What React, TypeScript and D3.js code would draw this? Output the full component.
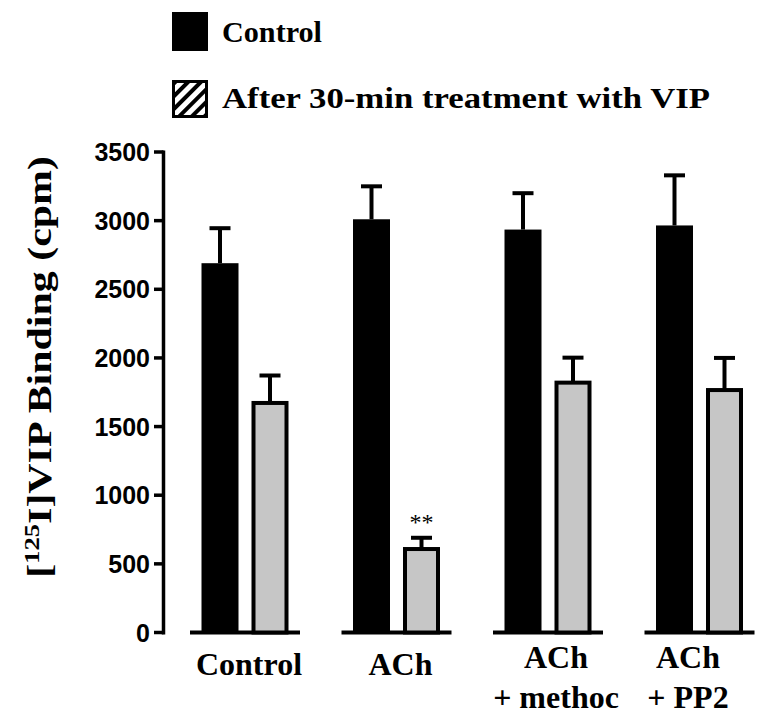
import React from 'react';
import * as d3 from 'd3';

// groups along the x axis, first line / second line of the label
const groups = ['Control', 'ACh', 'ACh + methoc', 'ACh + PP2'];
const labelLines = [['Control'], ['ACh'], ['ACh', '+ methoc'], ['ACh', '+ PP2']];

const series = ['Control', 'After 30-min treatment with VIP'];
const controlMean = [2690, 3010, 2935, 2965];
const controlSem = [255, 240, 265, 365];
const vipMean = [1672, 608, 1820, 1766];
const vipSem = [200, 82, 182, 234];
const signif = ['', '**', '', ''];

const yTicks = [0, 500, 1000, 1500, 2000, 2500, 3000, 3500];

const W = 768;
const H = 724;
const serif = '"Liberation Serif", "Times New Roman", serif';
const sans = '"Liberation Sans", Arial, sans-serif';

export default function App() {
  const y = d3.scaleLinear().domain([0, 3500]).range([632.5, 152]);
  const x = d3.scalePoint<string>().domain(groups).range([245, 699.5]);
  const sub = d3.scaleBand<number>().domain([0, 1]).range([-55, 55])
    .paddingInner(0.26).paddingOuter(0.23);
  const bw = sub.bandwidth();
  const axisX = 163.5;
  // labels sit slightly off the group centre in the original
  const labelNudge = [4, 4, 8, -11.5];

  const rows = groups.map((g, i) => [
    { g, k: 0, v: controlMean[i], e: controlSem[i], s: '' },
    { g, k: 1, v: vipMean[i], e: vipSem[i], s: signif[i] },
  ]).flat();

  return (
    <svg width={W} height={H} style={{ position: 'absolute', left: 0, top: 0, background: '#fff' }}>
      <defs>
        <pattern id="hatch" width="9" height="9" patternUnits="userSpaceOnUse" patternTransform="rotate(45)">
          <rect width="9" height="9" fill="#fff" />
          <rect width="4" height="9" fill="#000" />
        </pattern>
      </defs>

      {/* legend */}
      <rect x={172} y={12} width={36} height={39} fill="#000" />
      <text x={222} y={42} fontFamily={serif} fontWeight="bold" fontSize={30}
        textLength={100} lengthAdjust="spacingAndGlyphs">{series[0]}</text>
      <rect x={173.5} y={81.5} width={33} height={35} fill="url(#hatch)" stroke="#000" strokeWidth={3} />
      <text x={222} y={108} fontFamily={serif} fontWeight="bold" fontSize={30}
        textLength={488} lengthAdjust="spacingAndGlyphs">{series[1]}</text>

      {/* y axis */}
      <line x1={axisX} x2={axisX} y1={y(3500) - 1.5} y2={y(0) + 2} stroke="#000" strokeWidth={3.5} />
      {yTicks.map(t => (
        <g key={t}>
          <line x1={154} x2={axisX} y1={y(t)} y2={y(t)} stroke="#000" strokeWidth={3.5} />
          <text x={150} y={y(t)} dy="0.36em" textAnchor="end" fontFamily={sans} fontWeight="bold" fontSize={25}>{t}</text>
        </g>
      ))}
      <text transform="translate(51,367) rotate(-90) scale(1.27,1)" textAnchor="middle"
        fontFamily={serif} fontWeight="bold" fontSize={33}>
        [<tspan fontSize={21} dy={-12}>125</tspan><tspan dy={12}>I]VIP Binding (cpm)</tspan>
      </text>

      {/* baselines per group */}
      {groups.map(g => (
        <line key={g} x1={x(g)! - 55} x2={x(g)! + 55} y1={y(0)} y2={y(0)} stroke="#000" strokeWidth={4} />
      ))}

      {/* bars with error bars */}
      {rows.map(d => {
        const cx = x(d.g)! + sub(d.k)! + bw / 2;
        const top = y(d.v);
        const et = y(d.v + d.e);
        return (
          <g key={d.g + d.k}>
            <line x1={cx} x2={cx} y1={top} y2={et} stroke="#000" strokeWidth={4} />
            <line x1={cx - 10.5} x2={cx + 10.5} y1={et} y2={et} stroke="#000" strokeWidth={4} />
            {d.k === 0 ? (
              <rect x={cx - bw / 2} y={top} width={bw} height={y(0) - top} fill="#000" />
            ) : (
              <rect x={cx - bw / 2 + 2} y={top} width={bw - 4} height={y(0) - top} fill="#c6c6c6" stroke="#000" strokeWidth={4} />
            )}
            {d.s && (
              <text x={cx} y={et - 8} textAnchor="middle" fontFamily={serif} fontSize={24}>{d.s}</text>
            )}
          </g>
        );
      })}

      {/* x labels */}
      {groups.map((g, i) => (
        <text key={g} textAnchor="middle" fontFamily={serif} fontWeight="bold" fontSize={32}>
          {labelLines[i].map((l, j) => (
            <tspan key={j} x={x(g)! + labelNudge[i]} y={(labelLines[i].length > 1 ? 668 : 675) + j * 40}>{l}</tspan>
          ))}
        </text>
      ))}
    </svg>
  );
}
